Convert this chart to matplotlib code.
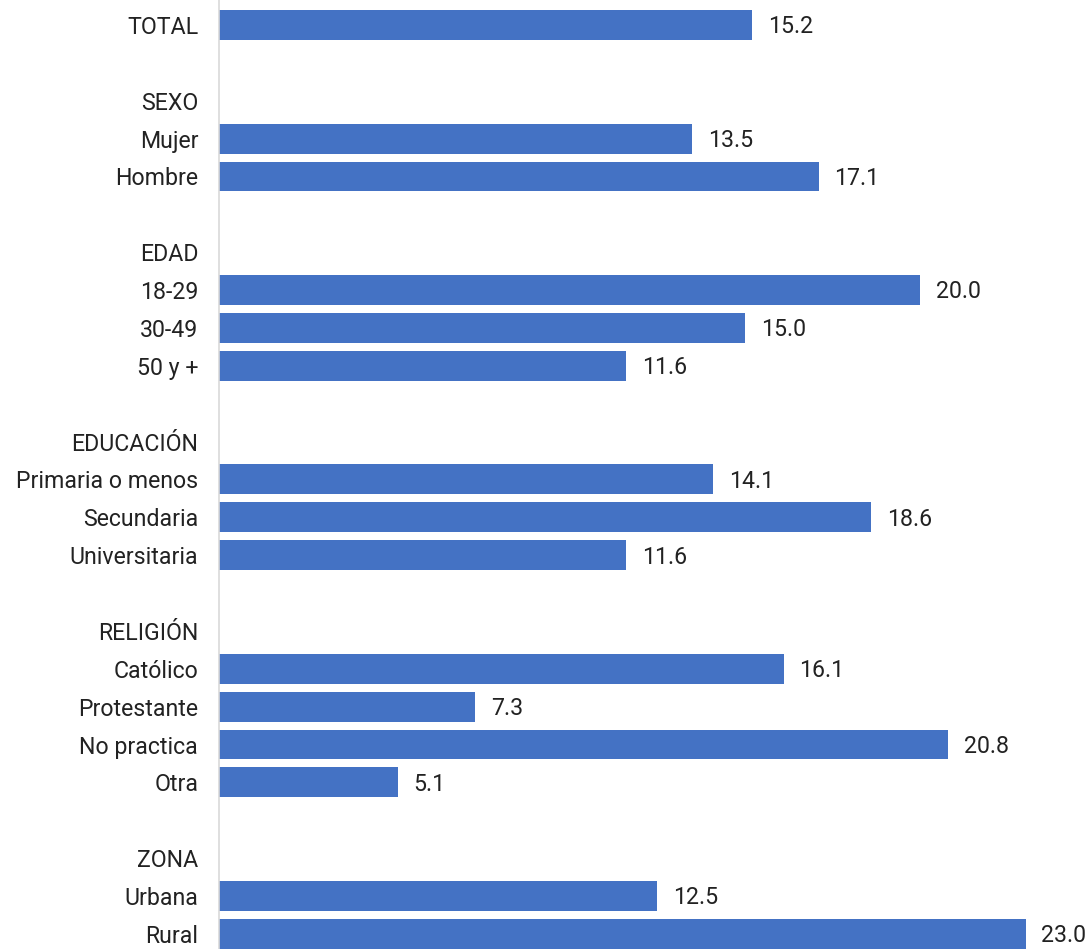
import matplotlib
matplotlib.use("Agg")
import matplotlib.pyplot as plt
import numpy as np

# Row labels (group headers and blank spacer rows carry no bar)
labels = [
    "TOTAL", "",
    "SEXO", "Mujer", "Hombre", "",
    "EDAD", "18-29", "30-49", "50 y +", "",
    "EDUCACIÓN", "Primaria o menos", "Secundaria", "Universitaria", "",
    "RELIGIÓN", "Católico", "Protestante", "No practica", "Otra", "",
    "ZONA", "Urbana", "Rural",
]
values = [
    15.2, None,
    None, 13.5, 17.1, None,
    None, 20.0, 15.0, 11.6, None,
    None, 14.1, 18.6, 11.6, None,
    None, 16.1, 7.3, 20.8, 5.1, None,
    None, 12.5, 23.0,
]

BAR_COLOR = "#4472C4"
TEXT_COLOR = "#222222"
FONT_SIZE = 16.7

plt.rcParams["font.family"] = ["Roboto", "DejaVu Sans"]

fig = plt.figure(figsize=(10.88, 9.49), dpi=100)
ax = fig.add_axes([219 / 1088, 0.0, 1 - 219 / 1088 - 0.009, 1.0])

pos = np.arange(len(labels))
for y, v in zip(pos, values):
    if v is None:
        continue
    ax.barh(y, v, height=0.79, color=BAR_COLOR, edgecolor="none")
    ax.text(v + 0.45, y + 0.05, f"{v:.1f}", va="center", ha="left",
            fontsize=FONT_SIZE, color=TEXT_COLOR, clip_on=False)

ax.set_xlim(0, 24.5)
ax.set_ylim(24.4, -0.66)
ax.set_yticks(pos)
ax.set_yticklabels(labels, fontsize=FONT_SIZE, color=TEXT_COLOR)
ax.tick_params(axis="y", length=0, pad=15)
ax.set_xticks([])

for side in ("top", "right", "bottom"):
    ax.spines[side].set_visible(False)
ax.spines["left"].set_color("#d9d9d9")
ax.spines["left"].set_linewidth(1.2)

fig.savefig("out.png", dpi=100)
